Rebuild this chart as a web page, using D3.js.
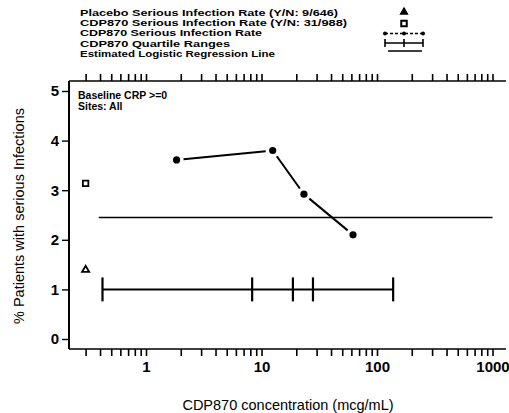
<!DOCTYPE html>
<html>
<head>
<meta charset="utf-8">
<script src="https://cdn.jsdelivr.net/npm/d3@7"></script>
<style>
  html, body { margin: 0; padding: 0; background: #fff; }
  svg { display: block; font-family: "Liberation Sans", Arial, sans-serif; }
</style>
</head>
<body>
<svg id="chart" width="509" height="413"></svg>
<script>
// Event counts (Yes / No) for the two overall groups
const placeboEvents = [9, 646];
const cdpEvents = [31, 988];
// Concentration at which the overall group rates are placed
const overallConc = 0.3;

// Serious infection rate by concentration quartile group
const rateConc = [1.84, 12.5, 23.3, 62];
const rateValues = [3.61, 3.80, 2.92, 2.10];

// Quartile boundaries of CDP870 concentration, drawn at 1%
const quartileBounds = [0.42, 8.3, 18.7, 27.9, 138];
const quartileLevel = 1;

// Estimated logistic regression line
const regressionRange = [0.39, 1000];
const regressionLevel = 2.45;

// Axis ticks
const xTicks = [0.3, 0.4, 0.5, 0.6, 0.7, 0.8, 0.9, 1, 2, 3, 4, 5, 6, 7, 8, 9, 10,
  20, 30, 40, 50, 60, 70, 80, 90, 100, 200, 300, 400, 500, 600, 700, 800, 900, 1000];
const xTickLabels = [1, 10, 100, 1000];
const yTicks = [0, 1, 2, 3, 4, 5];

const legendLabels = [
  "Placebo Serious Infection Rate (Y/N: 9/646)",
  "CDP870 Serious Infection Rate (Y/N: 31/988)",
  "CDP870 Serious Infection Rate",
  "CDP870 Quartile Ranges",
  "Estimated Logistic Regression Line"
];

const svg = d3.select("#chart");

const frame = { left: 69, right: 506, top: 81, bottom: 349 };
const x = d3.scaleLog().domain([1, 1000]).range([146, 492.5]);
const y = d3.scaleLinear().domain([0, 5]).range([339, 91]);

const ink = "#000";

// Frame lines (left, top, bottom)
svg.append("line").attr("x1", frame.left).attr("x2", frame.left)
  .attr("y1", frame.top).attr("y2", frame.bottom)
  .attr("stroke", ink).attr("stroke-width", 2);
svg.append("line").attr("x1", frame.left).attr("x2", frame.right)
  .attr("y1", frame.bottom).attr("y2", frame.bottom)
  .attr("stroke", ink).attr("stroke-width", 1.6);
svg.append("line").attr("x1", frame.left).attr("x2", frame.right)
  .attr("y1", frame.top).attr("y2", frame.top)
  .attr("stroke", ink).attr("stroke-width", 1.6);

// Bottom axis
const xAxis = d3.axisBottom(x).tickValues(xTicks).tickSize(7).tickSizeOuter(0)
  .tickPadding(5)
  .tickFormat(d => xTickLabels.includes(d) ? String(d) : "");
const gx = svg.append("g").attr("transform", `translate(0,${frame.bottom})`).call(xAxis);
gx.select(".domain").remove();
gx.selectAll(".tick line").attr("stroke", ink).attr("stroke-width", 1.6);
gx.selectAll(".tick text").attr("fill", ink)
  .style("font-size", "15px").style("font-weight", "bold")
  .style("font-family", "'Liberation Sans', Arial, sans-serif");

// Top axis (mirrored ticks, no labels)
const xAxisTop = d3.axisTop(x).tickValues(xTicks).tickSize(7).tickSizeOuter(0)
  .tickFormat("");
const gxt = svg.append("g").attr("transform", `translate(0,${frame.top})`).call(xAxisTop);
gxt.select(".domain").remove();
gxt.selectAll(".tick line").attr("stroke", ink).attr("stroke-width", 1.6);

// Left axis
const yAxis = d3.axisLeft(y).tickValues(yTicks).tickSize(7).tickSizeOuter(0)
  .tickPadding(3).tickFormat(d3.format("d"));
const gy = svg.append("g").attr("transform", `translate(${frame.left},0)`).call(yAxis);
gy.select(".domain").remove();
gy.selectAll(".tick line").attr("stroke", ink).attr("stroke-width", 1.4);
gy.selectAll(".tick text").attr("fill", ink)
  .style("font-size", "15px").style("font-weight", "bold")
  .style("font-family", "'Liberation Sans', Arial, sans-serif");

// Axis titles
svg.append("text")
  .attr("transform", "translate(24,216) rotate(-90)")
  .attr("text-anchor", "middle")
  .style("font-size", "14.5px")
  .attr("fill", ink)
  .text("% Patients with serious Infections");

svg.append("text")
  .attr("x", 288).attr("y", 410)
  .attr("text-anchor", "middle")
  .style("font-size", "14.5px")
  .attr("fill", ink)
  .text("CDP870 concentration (mcg/mL)");

// Subset annotations
svg.append("text").attr("x", 78).attr("y", 99)
  .style("font-size", "10.5px").style("font-weight", "bold").attr("fill", ink)
  .text("Baseline CRP >=0");
svg.append("text").attr("x", 78).attr("y", 110)
  .style("font-size", "10.5px").style("font-weight", "bold").attr("fill", ink)
  .text("Sites: All");

// Estimated logistic regression line
svg.append("line")
  .attr("x1", x(regressionRange[0])).attr("x2", x(regressionRange[1]))
  .attr("y1", y(regressionLevel)).attr("y2", y(regressionLevel))
  .attr("stroke", ink).attr("stroke-width", 1.5);

// Quartile ranges
const qy = y(quartileLevel);
svg.append("line")
  .attr("x1", x(quartileBounds[0])).attr("x2", x(quartileBounds[quartileBounds.length - 1]))
  .attr("y1", qy).attr("y2", qy)
  .attr("stroke", ink).attr("stroke-width", 2);
svg.selectAll(".qcap").data(quartileBounds).enter().append("line")
  .attr("class", "qcap")
  .attr("x1", d => x(d)).attr("x2", d => x(d))
  .attr("y1", qy - 12).attr("y2", qy + 12)
  .attr("stroke", ink).attr("stroke-width", 2.2);

// Rate by quartile: segments with a small gap around each dot
const pts = rateConc.map((c, i) => [x(c), y(rateValues[i])]);
const gap = 7;
d3.pairs(pts).forEach(([a, b]) => {
  const dx = b[0] - a[0], dy = b[1] - a[1];
  const len = Math.hypot(dx, dy);
  const ux = dx / len, uy = dy / len;
  svg.append("line")
    .attr("x1", a[0] + ux * gap).attr("y1", a[1] + uy * gap)
    .attr("x2", b[0] - ux * gap).attr("y2", b[1] - uy * gap)
    .attr("stroke", ink).attr("stroke-width", 2);
});
svg.selectAll(".ratept").data(pts).enter().append("circle")
  .attr("class", "ratept")
  .attr("cx", d => d[0]).attr("cy", d => d[1]).attr("r", 3.6)
  .attr("fill", ink);

// Overall group rates
const placeboRate = placeboEvents[0] / placeboEvents[1] * 100;
const cdpRate = cdpEvents[0] / cdpEvents[1] * 100;
const tri = d3.symbol().type(d3.symbolTriangle).size(22);
const sq = d3.symbol().type(d3.symbolSquare).size(30);

svg.append("path").attr("d", tri)
  .attr("transform", `translate(${x(overallConc)},${y(placeboRate)})`)
  .attr("fill", "#fff").attr("stroke", ink).attr("stroke-width", 1.8);
svg.append("path").attr("d", sq)
  .attr("transform", `translate(${x(overallConc)},${y(cdpRate)})`)
  .attr("fill", "#fff").attr("stroke", ink).attr("stroke-width", 1.8);

// Legend: compact rows, each stretched to its set width
const legendY = [16, 26.2, 36.4, 46.6, 56.8];
const legendWidths = [258, 267, 182, 150, 195];
const legend = svg.append("g");
legend.selectAll("text").data(legendLabels).enter().append("text")
  .attr("x", 80).attr("y", (d, i) => legendY[i])
  .attr("textLength", (d, i) => legendWidths[i])
  .attr("lengthAdjust", "spacingAndGlyphs")
  .style("font-size", "9px").style("font-weight", "bold")
  .attr("fill", ink)
  .text(d => d);

const symX = 404;
legend.append("path").attr("d", tri).attr("transform", `translate(${symX},12)`)
  .attr("fill", ink).attr("stroke", ink).attr("stroke-width", 1.2);
legend.append("path").attr("d", sq).attr("transform", `translate(${symX},23.5)`)
  .attr("fill", "#fff").attr("stroke", ink).attr("stroke-width", 2);

const legDots = [385, 404, 423];
legend.append("line").attr("x1", 385).attr("x2", 423).attr("y1", 33.5).attr("y2", 33.5)
  .attr("stroke", ink).attr("stroke-width", 1.3).attr("stroke-dasharray", "3,2");
legend.selectAll(".ldot").data(legDots).enter().append("circle")
  .attr("class", "ldot")
  .attr("cx", d => d).attr("cy", 33.5).attr("r", 2)
  .attr("fill", ink);

legend.append("line").attr("x1", 385).attr("x2", 423).attr("y1", 43).attr("y2", 43)
  .attr("stroke", ink).attr("stroke-width", 1.6);
legend.selectAll(".lcap").data(legDots).enter().append("line")
  .attr("class", "lcap")
  .attr("x1", d => d).attr("x2", d => d).attr("y1", 39).attr("y2", 47)
  .attr("stroke", ink).attr("stroke-width", 1.6);

legend.append("line").attr("x1", 388).attr("x2", 422).attr("y1", 51).attr("y2", 51)
  .attr("stroke", ink).attr("stroke-width", 1.5);
</script>
</body>
</html>
